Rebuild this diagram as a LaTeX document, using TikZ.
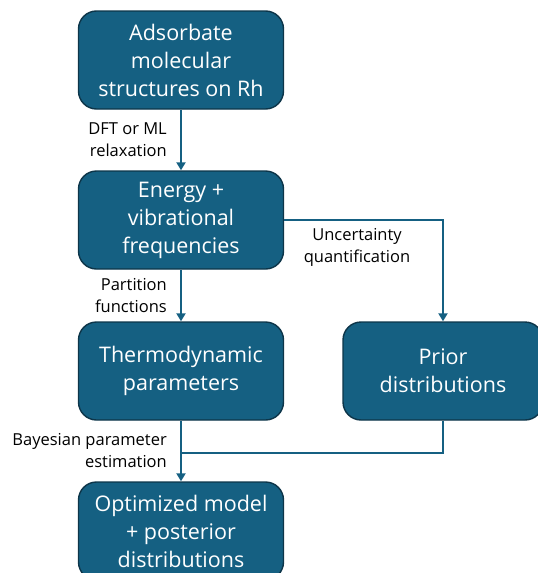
\documentclass[tikz,border=0pt]{standalone}
\usepackage{fontspec}
\setmainfont{Open Sans}
\usetikzlibrary{arrows.meta}
\definecolor{boxblue}{HTML}{156082}
\definecolor{boxrim}{HTML}{0D3549}

\begin{document}
\begin{tikzpicture}[x=1pt,y=-1pt]
  \tikzset{stage/.style = {shape=rectangle,rounded corners=18pt,draw=boxrim,line width=1.4pt,fill=boxblue,
      text=white,minimum width=205pt,minimum height=98pt,align=center,inner sep=2pt,
      font=\fontsize{21.5}{28}\selectfont}}
  \tikzset{edge/.style = {draw=boxblue,line width=2.4pt,-{Triangle[width=9pt,length=8pt]}}}
  \tikzset{link/.style = {draw=boxblue,line width=2.4pt}}
  \tikzset{lbl/.style = {font=\fontsize{16.5}{22}\selectfont,align=right,inner sep=0pt}}
  \useasboundingbox (0,0) rectangle (538,573);
	\node[stage] (ads) at (181,60) {Adsorbate\\molecular\\structures on Rh};
	\node[stage] (ene) at (181,220) {Energy +\\vibrational\\frequencies};
	\node[stage] (thermo) at (181,371) {Thermodynamic\\parameters};
	\node[stage,minimum width=200pt] (prior) at (443,371) {Prior\\distributions};
	\node[stage] (opt) at (181,531) {Optimized model\\+ posterior\\distributions};
	\coordinate (join) at (181,453);

    \foreach \from/\to/\r in {ads/ene/{DFT or ML\\relaxation},ene/thermo/{Partition\\functions},thermo/opt/{Bayesian parameter\\estimation}}
    \path[edge] (\from) -- node[lbl,left=13pt]{\r} (\to);

    \path[edge] (ene.east) -| (prior.north);
    \node[lbl,align=center,anchor=north] (uq) at (357,228) {Uncertainty\\quantification};
    \path[link] (prior.south) |- (join);
   
\end{tikzpicture}
\end{document}
